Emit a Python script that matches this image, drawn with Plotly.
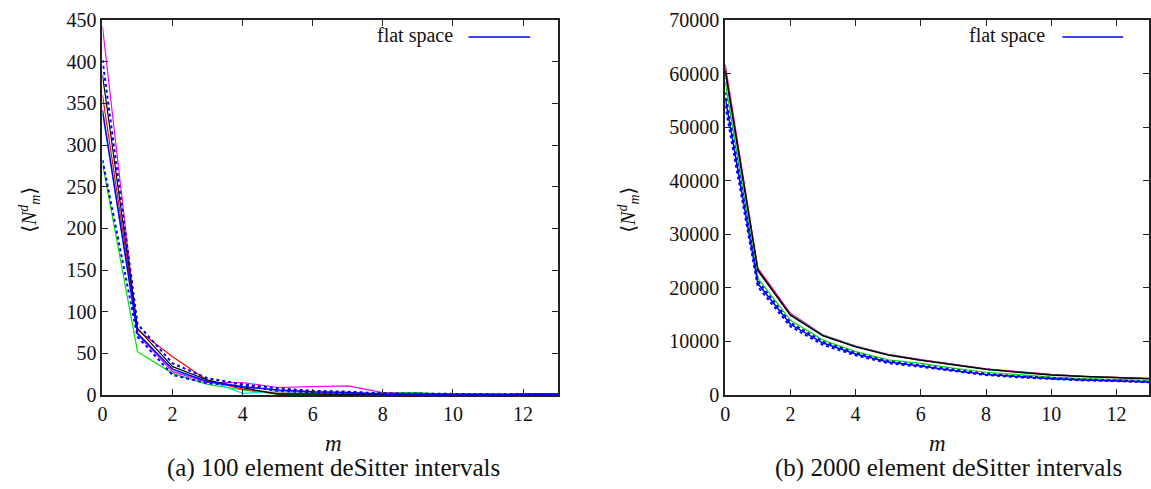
import plotly.graph_objects as go

m = list(range(14))

# (a) 100 element deSitter intervals
a_magenta = [442, 73, 28, 15, 14.8, 9, 10, 11, 2.8, 1, 1, 0.5, 1, 1]
a_dot_up = [402, 85, 38, 20, 12.8, 8, 5, 4, 2, 1.5, 1, 1, 1, 1]
a_black = [384, 80, 34, 18, 8.8, 1, 1, 1, 0.5, 0, 0, 0, 1, 1]
a_red = [360, 78, 46, 17.5, 7, 2, 2, 3, 1, 1, 0, 0, 1, 0]
a_flat = [342, 74, 31, 16, 10, 6, 4, 3, 1, 1, 1.5, 1, 0.5, 0.5]
a_cyan = [338, 73, 28, 18, 2, 4, 3, 2, 1, 1, 0.5, 1, 1, 1]
a_green = [278, 52, 26, 12.8, 6, 1, 0.5, 0.5, 3, 3, 0.5, 0, 1, 1]
a_dot_lo = [282, 70, 24, 14, 11, 5, 3, 2, 0.5, 0.5, 0.5, 0.5, 0, 0]

# (b) 2000 element deSitter intervals
b_magenta = [61700, 23700, 15250, 11250, 9150, 7600, 6600, 5700, 4900, 4350, 3850, 3500, 3280, 3100]
b_red = [61000, 23500, 15100, 11150, 9080, 7520, 6550, 5650, 4850, 4300, 3800, 3470, 3250, 3070]
b_black = [60500, 23300, 14900, 11050, 9000, 7450, 6500, 5600, 4800, 4250, 3750, 3450, 3230, 3050]
b_cyan = [60000, 23100, 15000, 11200, 9100, 7500, 6500, 5620, 4800, 4280, 3780, 3460, 3260, 3060]
b_green = [58400, 21800, 13950, 10250, 8100, 6550, 5900, 5000, 4250, 3750, 3350, 3050, 2900, 2750]
b_dot_up = [56500, 21300, 13500, 9950, 7850, 6300, 5550, 4700, 3980, 3500, 3130, 2880, 2740, 2520]
b_flat = [55500, 20800, 13200, 9700, 7650, 6150, 5400, 4550, 3850, 3400, 3040, 2800, 2670, 2450]
b_dot_lo = [54000, 20200, 12800, 9350, 7400, 5950, 5250, 4420, 3730, 3300, 2950, 2720, 2600, 2380]

x_ticks = [0, 2, 4, 6, 8, 10, 12]
a_yticks = list(range(0, 451, 50))
b_yticks = list(range(0, 70001, 10000))

W, H = 1151, 489
FONT = "Liberation Serif, DejaVu Serif, serif"

fig = go.Figure()

def add(xa, ya, y, color, dash="solid", width=1.2):
    fig.add_trace(go.Scatter(x=m, y=y, mode="lines", xaxis=xa, yaxis=ya,
                             line=dict(color=color, width=width, dash=dash),
                             showlegend=False, hoverinfo="skip"))

for xa, ya, series in [
    ("x", "y", [(a_green, "#00e000", "solid", 1.2), (a_cyan, "#00e0e0", "solid", 1.2),
                (a_red, "#ff0000", "solid", 1.2), (a_magenta, "#ff00ff", "solid", 1.2),
                (a_black, "#000000", "solid", 1.2), (a_dot_up, "#0000ff", "dot", 2),
                (a_dot_lo, "#0000ff", "dot", 2), (a_flat, "#0000ff", "solid", 1.5)]),
    ("x2", "y2", [(b_magenta, "#ff00ff", "solid", 1.2), (b_red, "#ff0000", "solid", 1.2),
                  (b_cyan, "#00e0e0", "solid", 1.2), (b_black, "#000000", "solid", 1.5),
                  (b_green, "#00e000", "solid", 1.2), (b_dot_up, "#0000ff", "dot", 2),
                  (b_dot_lo, "#0000ff", "dot", 2), (b_flat, "#0000ff", "solid", 1.5)]),
]:
    for y, c, d, w in series:
        add(xa, ya, y, c, d, w)

L1, R1 = 98, 556
L2, R2 = 724, 1150
TOP, BOT = 20, 395
ph = BOT - TOP

axis_common = dict(showline=True, linecolor="#222", linewidth=2, mirror="ticks",
                   ticks="inside", ticklen=6, tickcolor="#222", tickwidth=1,
                   showgrid=False, zeroline=False, tickformat="d",
                   tickfont=dict(family=FONT, size=20, color="#111"))

fig.update_layout(
    width=W, height=H, paper_bgcolor="white", plot_bgcolor="white",
    font=dict(family=FONT, size=20, color="#111"),
    margin=dict(l=0, r=0, t=TOP, b=H - BOT),
    xaxis=dict(domain=[L1 / W, R1 / W], range=[0, 13], tickvals=x_ticks, anchor="y", **axis_common),
    yaxis=dict(domain=[0, 1], range=[0, 450], tickvals=a_yticks, anchor="x", **axis_common),
    xaxis2=dict(domain=[L2 / W, R2 / W], range=[0, 13], tickvals=x_ticks, anchor="y2", **axis_common),
    yaxis2=dict(domain=[0, 1], range=[0, 70000], tickvals=b_yticks, anchor="x2", **axis_common),
    showlegend=False,
)

def py(p):
    return (BOT - p) / ph

ann = []
for cx in [330, 937]:
    ann.append(dict(x=cx / W, y=py(443), xref="paper", yref="paper", text="<i>m</i>",
                    xanchor="center", yanchor="middle",
                    showarrow=False, font=dict(family=FONT, size=23, color="#111")))
for cx, text in [(330, "(a) 100 element deSitter intervals"),
                 (948, "(b) 2000 element deSitter intervals")]:
    ann.append(dict(x=cx / W, y=py(468), xref="paper", yref="paper", text=text,
                    xanchor="center", yanchor="middle",
                    showarrow=False, font=dict(family=FONT, size=25, color="#111")))
for xl in [25, 627]:
    ann.append(dict(x=xl / W, y=py(210), xref="paper", yref="paper",
                    text="⟨<i>N</i><sup><i>d</i></sup><sub><i>m</i></sub>⟩", textangle=-90,
                    xanchor="center", yanchor="middle",
                    showarrow=False, font=dict(family=FONT, size=20, color="#111")))
for xr in [452, 1047]:
    ann.append(dict(x=xr / W, y=py(36), xref="paper", yref="paper", xanchor="right",
                    yanchor="middle", text="flat space", showarrow=False,
                    font=dict(family=FONT, size=20, color="#111")))
fig.update_layout(annotations=ann)

shapes = []
for x0, x1 in [(466, 528), (1063, 1124)]:
    shapes.append(dict(type="line", xref="paper", yref="paper", x0=x0 / W, x1=x1 / W,
                       y0=py(37), y1=py(37), line=dict(color="#0000ff", width=1.5)))
fig.update_layout(shapes=shapes)

fig.write_html("out.html", config={"displayModeBar": False})
